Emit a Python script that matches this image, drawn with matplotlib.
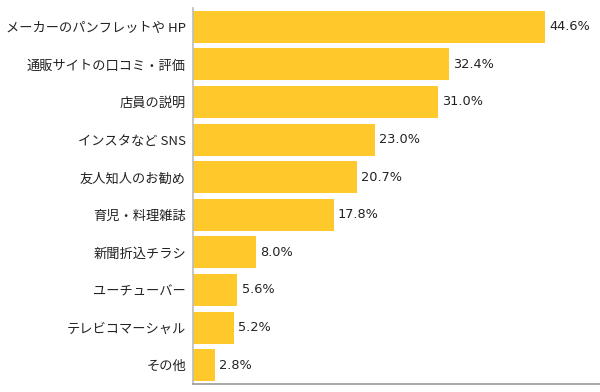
import matplotlib
matplotlib.use("Agg")
import matplotlib.pyplot as plt

plt.rcParams['font.family'] = ['Noto Sans CJK JP', 'DejaVu Sans']

# データ
labels = ["メーカーのパンフレットや HP", "通販サイトの口コミ・評価", "店員の説明",
          "インスタなど SNS", "友人知人のお勧め", "育児・料理雑誌", "新聞折込チラシ",
          "ユーチューバー", "テレビコマーシャル", "その他"]
values = [44.6, 32.4, 31.0, 23.0, 20.7, 17.8, 8.0, 5.6, 5.2, 2.8]

fig = plt.figure(figsize=(6, 3.92), dpi=100)
ax = fig.add_axes([193 / 600, 8 / 392, 407 / 600, 376 / 392])

pos = list(range(len(labels)))
ax.barh(pos, values, height=0.85, color="#FFC92B")
for p, v in zip(pos, values):
    ax.text(v + 0.55, p, "%.1f%%" % v, va="center", ha="left",
            fontsize=9.3, color="#222222", family="DejaVu Sans")

ax.set_ylim(len(labels) - 0.5, -0.5)
ax.set_xlim(0, 51.5)
ax.set_yticks(pos)
ax.set_yticklabels(labels, fontsize=9.5, color="#222222")
ax.tick_params(axis="y", length=0, pad=5)
ax.set_xticks([])
for s in ["top", "right"]:
    ax.spines[s].set_visible(False)
ax.spines["left"].set_color("#bbbbbb")
ax.spines["bottom"].set_color("#999999")
ax.spines["left"].set_linewidth(1.2)
ax.spines["bottom"].set_linewidth(1.2)

fig.savefig("out.png", dpi=100)
